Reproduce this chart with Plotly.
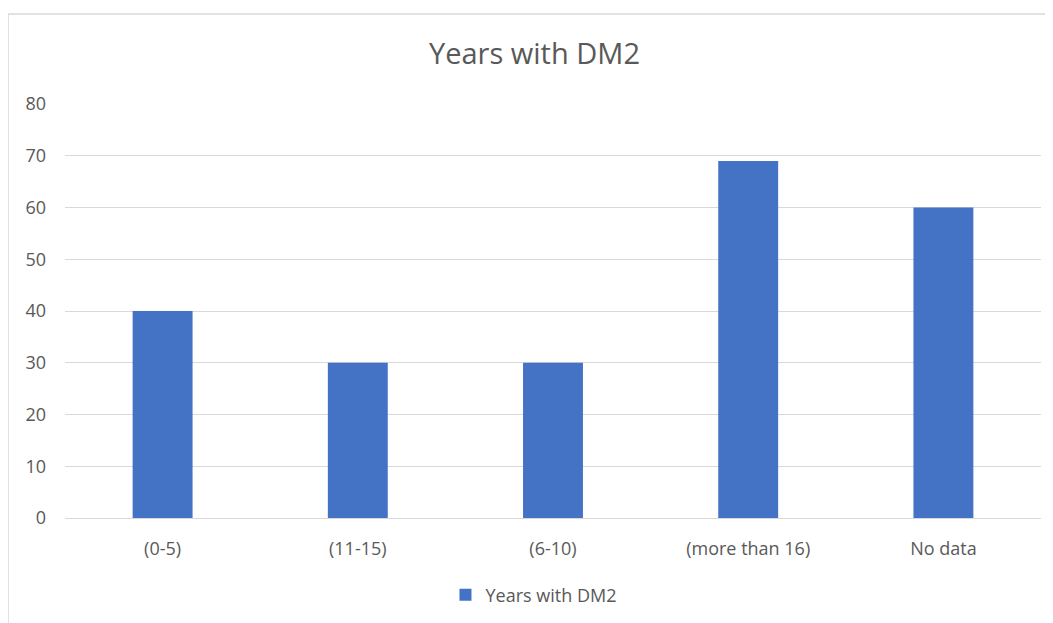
import plotly.graph_objects as go

categories = ["(0-5)", "(11-15)", "(6-10)", "(more than 16)", "No data"]
values = [40, 30, 30, 69, 60]
series_name = "Years with DM2"
y_ticks = [0, 10, 20, 30, 40, 50, 60, 70, 80]

fig = go.Figure()
fig.add_trace(go.Bar(
    x=categories, y=values, name=series_name,
    marker=dict(color="#4472C4", line=dict(width=0)),
    showlegend=True,
))

font_family = "Open Sans, Noto Sans, sans-serif"
fig.update_layout(
    width=1053, height=623,
    margin=dict(l=57, r=20, t=96, b=113),
    paper_bgcolor="white", plot_bgcolor="white",
    bargap=0.693,
    title=dict(text="Years with DM2", x=0.5, xanchor="center", xref="container",
               y=1 - 46 / 623, yanchor="middle",
               font=dict(family=font_family, size=29, color="#595959")),
    font=dict(family=font_family, size=18, color="#595959"),
    xaxis=dict(showgrid=False, showline=True, linecolor="#d9d9d9", linewidth=1,
               ticks="", tickfont=dict(size=18, color="#595959"), ticklabelstandoff=14),
    yaxis=dict(range=[0, 80], tickvals=y_ticks, showgrid=True, gridcolor="#d9d9d9",
               gridwidth=1, zeroline=False, showline=False, ticks="",
               tickfont=dict(size=18, color="#595959"), ticklabelstandoff=18),
    legend=dict(orientation="h", x=0.48, xanchor="center", y=-0.186, yanchor="middle",
                itemwidth=30, font=dict(size=18, color="#595959")),
    shapes=[dict(type="rect", xref="paper", yref="paper",
                 x0=(0 - 57) / 976, x1=1.05, y0=-0.4, y1=(510 - 6) / 414,
                 line=dict(color="#d9d9d9", width=1.5), fillcolor="rgba(0,0,0,0)", layer="below")],
)

fig.write_html("out.html")
